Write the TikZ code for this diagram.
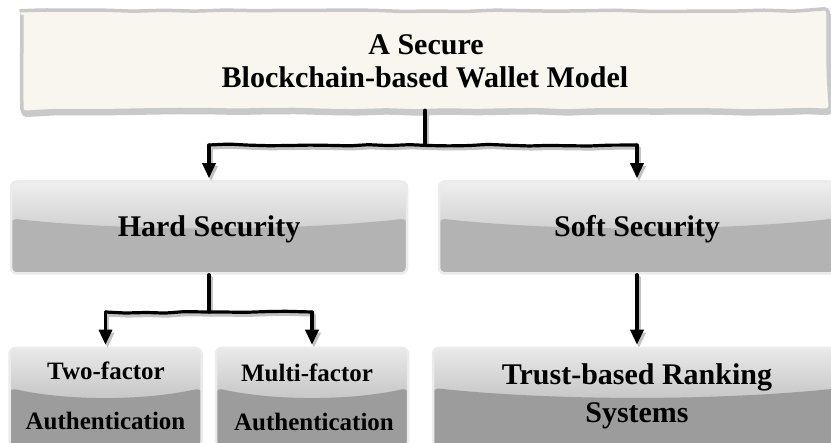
\documentclass[tikz,border=0pt]{standalone}
\usepackage{fontspec}
\setmainfont{Liberation Serif}
\usetikzlibrary{arrows.meta,calc,decorations.pathmorphing}

\definecolor{paper}{HTML}{F8F6EF}
\definecolor{sketchrim}{HTML}{C9C9C9}
\definecolor{rimlight}{HTML}{EBEBEB}
\definecolor{glossTop}{HTML}{EFEFEF}
\definecolor{glossMid}{HTML}{D0D0D0}
\definecolor{glossLow}{HTML}{B3B3B3}
\definecolor{darkTop}{HTML}{E9E9E9}
\definecolor{darkMid}{HTML}{C6C6C6}
\definecolor{darkLow}{HTML}{9C9C9C}
\definecolor{linkshade}{HTML}{C2C2C2}

\tikzset{
  % glossy rounded box: #1 top colour, #2 colour above the sheen line,
  % #3 lower colour, #4 depth of the sheen line below the top edge
  glossy/.style n args={4}{
    draw=rimlight, line width=2.5pt, rounded corners=6pt, inner sep=0pt,
    path picture={
      \coordinate (gw) at (path picture bounding box.north west);
      \coordinate (ge) at (path picture bounding box.north east);
      \fill[top color=#1, bottom color=#2]
        (gw) rectangle ($(ge)+(0,#4+12)$);
      \fill[#3] ($(gw)+(0,#4)$)
        .. controls ($(gw)!0.3!(ge)+(0,#4+13)$) and ($(gw)!0.7!(ge)+(0,#4+13)$)
        .. ($(ge)+(0,#4)$)
        -- (path picture bounding box.south east)
        -- (path picture bounding box.south west) -- cycle;
    }},
  upperbox/.style={glossy={glossTop}{glossMid}{glossLow}{37}},
  lowerbox/.style={glossy={darkTop}{darkMid}{darkLow}{40}},
  sketch/.style={decoration={random steps, segment length=30pt, amplitude=0.9pt},
    decorate, rounded corners=4pt, line width=3.5pt},
  link/.style={line width=3.2pt, line cap=round},
  wobble/.style={decoration={random steps, segment length=20pt, amplitude=1.1pt},
    decorate, rounded corners=1.5pt},
  arrowed/.style={-{Triangle[length=15pt,width=13pt]}, shorten >=2pt},
  bigtext/.style={font=\fontsize{30}{34}\selectfont\bfseries, inner sep=0pt, anchor=base},
  smalltext/.style={font=\fontsize{25}{30}\selectfont\bfseries, inner sep=0pt, anchor=base},
}

% every connector of the tree, drawn in the colour given
\newcommand\linknetwork[1]{%
  \pgfmathsetseed{4}%
  \draw[link, #1] (top.south) -- (j1);
  \draw[link, wobble, #1] (j1 -| hard.north) -- (j1 -| soft.north);
  \draw[link, arrowed, #1] (j1 -| hard.north) -- (hard.north);
  \draw[link, arrowed, #1] (j1 -| soft.north) -- (soft.north);
  \draw[link, #1] (hard.south) -- (j2);
  \draw[link, wobble, #1] (j2 -| two.north) -- (j2 -| multi.north);
  \draw[link, arrowed, #1] (j2 -| two.north) -- (two.north);
  \draw[link, arrowed, #1] (j2 -| multi.north) -- (multi.north);
  \draw[link, arrowed, #1] (soft.south) -- (trust.north);
}

\begin{document}
\begin{tikzpicture}[x=1pt, y=-1pt]
  \useasboundingbox (0,0) rectangle (831,443);
  \clip (0,0) rectangle (831,443);
  \fill[white] (0,0) rectangle (831,443);

  % title panel with a hand-drawn rim
  \node (top) [minimum width=806pt, minimum height=99pt, inner sep=0pt] at (425,60.5) {};
  \pgfmathsetseed{11}
  \draw[sketch, sketchrim, transform canvas={shift={(1,3)}}]
    (top.north west) rectangle (top.south east);
  \pgfmathsetseed{11}
  \filldraw[sketch, fill=paper, draw=sketchrim]
    (top.north west) rectangle (top.south east);
  \node (t1) [bigtext] at (426,55) {A Secure};
  \node (t2) [bigtext] at (425,88) {Blockchain-based Wallet Model};

  % second level
  \node (hard) [upperbox, minimum width=396pt, minimum height=92pt] at (209,227.5) {};
  \node (soft) [upperbox, minimum width=396pt, minimum height=92pt] at (637,227.5) {};
  \node (hardlabel) [bigtext] at (209,237) {Hard Security};
  \node (softlabel) [bigtext] at (637,237) {Soft Security};

  % third level
  \node (two)   [lowerbox, minimum width=192pt, minimum height=100pt] at (105.5,398) {};
  \node (multi) [lowerbox, minimum width=192pt, minimum height=100pt] at (312,398) {};
  \node (trust) [lowerbox, minimum width=408pt, minimum height=100pt] at (637,398) {};
  \node (twoa)   [smalltext] at (106,380) {Two-factor};
  \node (twob)   [smalltext] at (105.5,430) {Authentication};
  \node (multia) [smalltext] at (307,382) {Multi-factor};
  \node (multib) [smalltext] at (314,431) {Authentication};
  \node (trusta) [bigtext] at (637,385) {Trust-based Ranking};
  \node (trustb) [bigtext] at (637,423) {Systems};

  % branching points of the connectors
  \coordinate (j1) at (425,145);
  \coordinate (j2) at (209,312);

  \begin{scope}[transform canvas={shift={(2,3)}}]
    \linknetwork{linkshade}
  \end{scope}
  \linknetwork{black}
\end{tikzpicture}
\end{document}
